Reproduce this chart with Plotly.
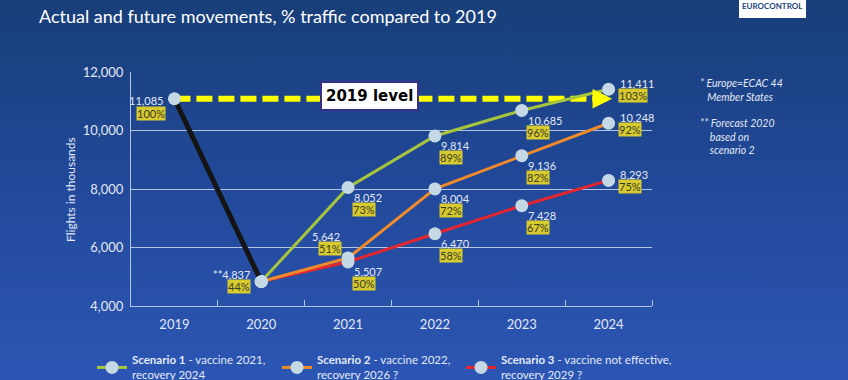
import base64
import plotly.graph_objects as go

# ---------------- data ----------------
years = [2019, 2020, 2021, 2022, 2023, 2024]
actual_years = [2019, 2020]
actual_vals = [11085, 4837]
actual_pct = ["100%", "44%"]
actual_text = ["11,085", "**4,837"]

scen_years = [2020, 2021, 2022, 2023, 2024]
s1_vals = [4837, 8052, 9814, 10685, 11411]
s2_vals = [4837, 5642, 8004, 9136, 10248]
s3_vals = [4837, 5507, 6470, 7428, 8293]
s1_pct = ["73%", "89%", "96%", "103%"]
s2_pct = ["51%", "72%", "82%", "92%"]
s3_pct = ["50%", "58%", "67%", "75%"]

scen_names = [
    "<b>Scenario 1</b> - vaccine 2021,<br>recovery 2024",
    "<b>Scenario 2</b> - vaccine 2022,<br>recovery 2026 ?",
    "<b>Scenario 3</b> - vaccine not effective,<br>recovery 2029 ?",
]
y_ticks = [4000, 6000, 8000, 10000, 12000]

# ---------------- style ----------------
W, H = 848, 380
L, R, T, B = 131, 196, 72, 74
PW, PH = W - L - R, H - T - B
FONT = "Lato"
MARK = "#c4d9e5"
COLS = ["#a6c43c", "#f08a2a", "#e3262f"]
LIGHT = "#e2e9f5"
PCT_BG = "#d7ca2e"


def px_x(px):
    return (px - L) / PW


def px_y(py):
    return (H - B - py) / PH


fig = go.Figure()

# background gradient
svg = ('<svg xmlns="http://www.w3.org/2000/svg" width="848" height="380">'
       '<defs><linearGradient id="g" x1="0" y1="0" x2="0" y2="1">'
       '<stop offset="0" stop-color="#183f79"/>'
       '<stop offset="0.5" stop-color="#22499a"/>'
       '<stop offset="1" stop-color="#2c56b4"/>'
       '</linearGradient></defs><rect width="848" height="380" fill="url(#g)"/></svg>')
src = "data:image/svg+xml;base64," + base64.b64encode(svg.encode()).decode()

# 2019 level dashed line
fig.add_trace(go.Scatter(
    x=[years[0], years[-1] - 0.17], y=[actual_vals[0]] * 2, mode="lines",
    line=dict(color="#ffff00", width=6, dash="16px,6px"),
    showlegend=False, hoverinfo="skip"))

# scenarios (draw red first, then orange, then green)
scen_vals = [s1_vals, s2_vals, s3_vals]
legend_ids = ["legend", "legend2", "legend3"]
for i in [2, 1, 0]:
    fig.add_trace(go.Scatter(
        x=scen_years, y=scen_vals[i], mode="lines+markers", name=scen_names[i],
        line=dict(color=COLS[i], width=3),
        marker=dict(color=MARK, size=13, line=dict(width=0)),
        legend=legend_ids[i]))

# actual line
fig.add_trace(go.Scatter(
    x=actual_years, y=actual_vals, mode="lines+markers",
    line=dict(color="#141414", width=5),
    marker=dict(color=MARK, size=13, line=dict(width=0)),
    showlegend=False))

ann = []


def label(x, y, val_text, pct_text, anchor, vx, vy, px_, py_):
    ann.append(dict(x=x, y=y, xref="x", yref="y", text=val_text, showarrow=False,
                    xanchor=anchor, yanchor="middle", xshift=vx, yshift=vy,
                    font=dict(family=FONT, size=11, color=LIGHT)))
    ann.append(dict(x=x, y=y, xref="x", yref="y", text=pct_text, showarrow=False,
                    xanchor=anchor, yanchor="middle", xshift=px_, yshift=py_,
                    bgcolor=PCT_BG, borderpad=0,
                    font=dict(family=FONT, size=11, color="#3b3b2a")))


# actual labels
label(actual_years[0], actual_vals[0], actual_text[0], actual_pct[0], "right", -9, -2, -8, -15)
label(actual_years[1], actual_vals[1], actual_text[1], actual_pct[1], "right", -9, 7, -10, -5)

pcts = [s1_pct, s2_pct, s3_pct]
for i in range(3):
    for j in range(1, 5):
        yr, v, p = scen_years[j], scen_vals[i][j], pcts[i][j - 1]
        vt = f"{v:,}"
        if j == 4:
            label(yr, v, vt, p, "left", 9, 6, 9, -6)
        elif i == 1 and j == 1:
            label(yr, v, vt, p, "right", -6, 21, -6, 9)
        else:
            label(yr, v, vt, p, "left", 4, -10, 4, -22)

# arrow head
ann.append(dict(x=years[-1] + 0.04, y=actual_vals[0], ax=years[-1] - 0.2, ay=actual_vals[0],
                xref="x", yref="y", axref="x", ayref="y", text="", showarrow=True,
                arrowhead=2, arrowsize=0.65, arrowwidth=6, arrowcolor="#ffff00", standoff=0))

# 2019 level box
ann.append(dict(x=2021.25, y=actual_vals[0], xref="x", yref="y", yshift=3,
                text="<b>2019 level</b>", showarrow=False, bgcolor="white",
                bordercolor="#3a2f88", borderwidth=2, borderpad=4,
                font=dict(family="DejaVu Sans", size=15, color="black")))

# subtitle
ann.append(dict(x=px_x(37), y=px_y(16), xref="paper", yref="paper", xanchor="left",
                yanchor="middle", text="Actual and future movements, % traffic compared to 2019",
                showarrow=False, font=dict(family=FONT, size=18, color="white")))

# y-axis title
ann.append(dict(x=px_x(70), y=px_y(190), xref="paper", yref="paper", textangle=-90,
                xanchor="center", yanchor="middle",
                text="Flights in thousands", showarrow=False,
                font=dict(family=FONT, size=12, color=LIGHT)))

# notes on the right
notes = [("<i>* Europe=ECAC 44<br>&nbsp;&nbsp;&nbsp;Member States</i>", 698, 75),
         ("<i>** Forecast 2020<br>&nbsp;&nbsp;&nbsp;&nbsp;based on<br>&nbsp;&nbsp;&nbsp;&nbsp;scenario 2</i>", 698, 115)]
for t, nx, ny in notes:
    ann.append(dict(x=px_x(nx), y=px_y(ny), xref="paper", yref="paper", xanchor="left",
                    yanchor="top", align="left", text=t, showarrow=False,
                    font=dict(family=FONT, size=10.5, color=LIGHT)))

# logo
ann.append(dict(x=px_x(772), y=px_y(6), xref="paper", yref="paper", text="<b>EUROCONTROL</b>",
                showarrow=False, xanchor="center", yanchor="middle",
                font=dict(family=FONT, size=8, color="#1d3f7b")))

shapes = [dict(type="rect", xref="paper", yref="paper", x0=px_x(739), x1=px_x(806),
               y0=px_y(18), y1=px_y(-5), fillcolor="white", line=dict(width=0), layer="above")]

leg_common = dict(orientation="h", xref="container", yref="container",
                  xanchor="left", yanchor="top", bgcolor="rgba(0,0,0,0)",
                  font=dict(family=FONT, size=11.5, color=LIGHT))
leg_x = [92, 277, 461]
LEG_TOP = 346

fig.update_layout(
    width=W, height=H, margin=dict(l=L, r=R, t=T, b=B, autoexpand=False),
    paper_bgcolor="#22499a", plot_bgcolor="rgba(0,0,0,0)",
    images=[dict(source=src, xref="paper", yref="paper", x=px_x(0), y=px_y(0),
                 sizex=W / PW, sizey=H / PH, sizing="stretch", layer="below",
                 xanchor="left", yanchor="top")],
    annotations=ann, shapes=shapes,
    showlegend=True,
    legend=dict(leg_common, x=leg_x[0] / W, y=1 - LEG_TOP / H),
    legend2=dict(leg_common, x=leg_x[1] / W, y=1 - LEG_TOP / H),
    legend3=dict(leg_common, x=leg_x[2] / W, y=1 - LEG_TOP / H),
    xaxis=dict(range=[2018.5, 2024.5], tickvals=years, ticktext=[str(y) for y in years],
               showgrid=False, zeroline=False, showline=True, linecolor="#b4c4e4",
               ticks="", ticklabelstandoff=6,
               tickfont=dict(family=FONT, size=13, color=LIGHT),
               minor=dict(tickvals=[y + 0.5 for y in years], ticks="inside", ticklen=6,
                          tickcolor="#b4c4e4", showgrid=False)),
    yaxis=dict(range=[4000, 12000], tickvals=y_ticks, tickformat=",d",
               showgrid=True, gridcolor="#b4c4e4", gridwidth=1, zeroline=False,
               showline=True, linecolor="#b4c4e4", ticks="", ticklabelstandoff=4,
               tickfont=dict(family=FONT, size=13, color=LIGHT)),
)

fig.write_html("out.html", config={"displayModeBar": False},
               post_script="document.body.style.margin='0';document.body.style.overflow='hidden';")
